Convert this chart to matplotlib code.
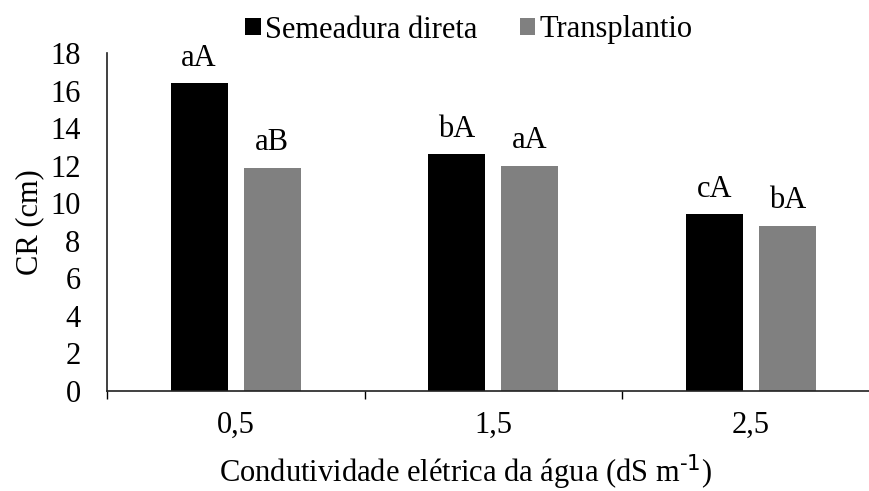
import numpy as np
import matplotlib
matplotlib.use("Agg")
import matplotlib.pyplot as plt

# CR (cm) by water electrical conductivity
categories = ["0,5", "1,5", "2,5"]
semeadura = [16.4, 12.6, 9.4]
transplantio = [11.9, 12.0, 8.8]
letters_semeadura = ["aA", "bA", "cA"]
letters_transplantio = ["aB", "aA", "bA"]
yticks = [0, 2, 4, 6, 8, 10, 12, 14, 16, 18]

plt.rcParams['font.family'] = ['Liberation Serif', 'DejaVu Serif']
fs = 22

fig = plt.figure(figsize=(8.7, 4.91), dpi=100)
ax = fig.add_axes([107 / 870, 1 - 391 / 491, 772.5 / 870, 338 / 491])

x = np.arange(len(categories))
w = 0.22
off = 0.142
b1 = ax.bar(x - off, semeadura, w, color="#000000", label="Semeadura direta")
b2 = ax.bar(x + off, transplantio, w, color="#808080", label="Transplantio")

for bars, labs in ((b1, letters_semeadura), (b2, letters_transplantio)):
    for rect, lab in zip(bars, labs):
        ax.annotate(lab, (rect.get_x() + rect.get_width() / 2, rect.get_height()),
                    xytext=(0, 12.5), textcoords="offset points",
                    ha="center", va="baseline", fontsize=fs)

ax.set_xlim(-0.5, 2.5)
ax.set_ylim(0, 18)
ax.set_yticks(yticks)
ax.set_xticks(x)
ax.set_xticklabels(categories)
ax.set_xticks([-0.5, 0.5, 1.5, 2.5], minor=True)
ax.tick_params(axis="x", which="major", length=0, pad=14, labelsize=fs)
ax.tick_params(axis="x", which="minor", length=6, width=1, direction="out")
ax.tick_params(axis="y", length=0, pad=19, labelsize=fs)

for s in ("top", "right"):
    ax.spines[s].set_visible(False)
for s in ("left", "bottom"):
    ax.spines[s].set_linewidth(1.2)
    ax.spines[s].set_color("#202020")

ax.set_ylabel("CR (cm)", fontsize=fs, labelpad=4)
ax.set_xlabel("Condutividade elétrica da água (dS m$^{\\text{-1}}$)", fontsize=fs)
ax.xaxis.set_label_coords((466 - 107) / 772.5, (391 - 482) / 338)
ax.xaxis.label.set_va("baseline")

fig.legend(handles=[b1, b2], loc="center", bbox_to_anchor=(469 / 870, 1 - 30 / 491),
           ncol=2, frameon=False, fontsize=fs, handlelength=0.5, handleheight=0.5,
           handletextpad=0.15, columnspacing=1.37, borderpad=0)

fig.savefig("out.png", dpi=100)
